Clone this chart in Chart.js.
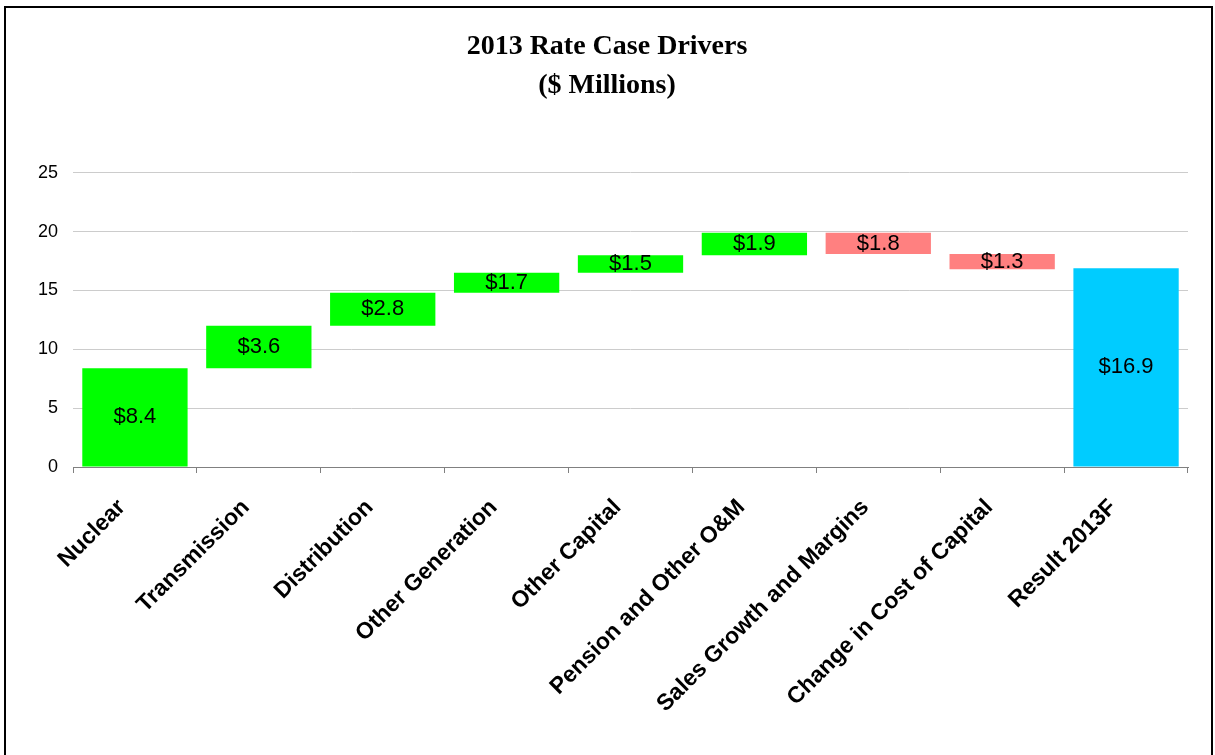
<!DOCTYPE html>
<html>
<head>
<meta charset="utf-8">
<title>2013 Rate Case Drivers</title>
<script src="https://cdn.jsdelivr.net/npm/chart.js@4/dist/chart.umd.min.js"></script>
<style>
    html, body { margin: 0; padding: 0; background: #fff; overflow: hidden; }
    #wrap { position: relative; width: 1215px; height: 755px; }
    /* frame round the chart, bottom edge runs past the window */
    #frame { position: absolute; left: 4px; top: 6px; width: 1205px; height: 800px; border: 2px solid #000; pointer-events: none; }
</style>
</head>
<body>
<div id="wrap">
    <canvas id="rateChart" width="1215" height="755"></canvas>
    <div id="frame"></div>
</div>
<script>
// --- chart data ---
const categories = ['Nuclear', 'Transmission', 'Distribution', 'Other Generation', 'Other Capital',
    'Pension and Other O&M', 'Sales Growth and Margins', 'Change in Cost of Capital', 'Result 2013F'];
const barStart = [0, 8.4, 12.0, 14.8, 16.5, 18.0, 19.9, 18.1, 0];
const barEnd = [8.4, 12.0, 14.8, 16.5, 18.0, 19.9, 18.1, 16.8, 16.9];
const barColors = ['#00ff00', '#00ff00', '#00ff00', '#00ff00', '#00ff00', '#00ff00', '#ff8080', '#ff8080', '#00ccff'];
const yTicks = [0, 5, 10, 15, 20, 25];

// small plugin: "$x.x" written in the middle of each bar
const barValueLabels = {
    id: 'barValueLabels',
    afterDatasetsDraw(chart) {
        const ctx = chart.ctx;
        const meta = chart.getDatasetMeta(0);
        ctx.save();
        ctx.font = '22px "Liberation Sans", Arial, sans-serif';
        ctx.fillStyle = '#000';
        ctx.textAlign = 'center';
        ctx.textBaseline = 'middle';
        meta.data.forEach((bar, i) => {
            const p = bar.getProps(['x', 'y', 'base'], true);
            const amount = Math.abs(barEnd[i] - barStart[i]).toFixed(1);
            ctx.fillText('$' + amount, p.x, (p.y + p.base) / 2);
        });
        ctx.restore();
    }
};

window.onload = () => {
    const ctx = document.getElementById('rateChart').getContext('2d');

    new Chart(ctx, {
        type: 'bar',
        data: {
            labels: categories,
            datasets: [{
                data: categories.map((c, i) => [barStart[i], barEnd[i]]),
                backgroundColor: barColors,
                borderWidth: 0,
                barPercentage: 0.85,
                categoryPercentage: 1
            }]
        },
        options: {
            responsive: false,
            animation: false,
            layout: { padding: { left: 26, right: 27, top: 0, bottom: 0 } },
            plugins: {
                legend: { display: false },
                tooltip: { enabled: false },
                title: {
                    display: true,
                    text: ['2013 Rate Case Drivers', '($ Millions)'],
                    color: '#000',
                    font: { family: '"Liberation Serif", "Times New Roman", serif', size: 28, weight: 'bold', lineHeight: 1.39 },
                    padding: { top: 27, bottom: 68 }
                }
            },
            scales: {
                x: {
                    grid: { offset: true, drawOnChartArea: false, drawTicks: true, tickLength: 6, color: '#808080' },
                    border: { display: true, color: '#808080', width: 1 },
                    ticks: {
                        color: '#000',
                        minRotation: 45,
                        maxRotation: 45,
                        autoSkip: false,
                        padding: 21,
                        labelOffset: -13,
                        font: { family: '"Liberation Sans", Arial, sans-serif', size: 23, weight: 'bold' }
                    },
                    afterFit: (scale) => { scale.height = 288; }
                },
                y: {
                    min: 0,
                    max: 25,
                    afterBuildTicks: (scale) => { scale.ticks = yTicks.map(v => ({ value: v })); },
                    grid: { color: '#cccccc', drawTicks: false },
                    border: { display: false },
                    ticks: {
                        color: '#000',
                        padding: 15,
                        font: { family: '"Liberation Sans", Arial, sans-serif', size: 18 }
                    },
                    afterFit: (scale) => { scale.width = 47; }
                }
            }
        },
        plugins: [barValueLabels]
    });
};
</script>
</body>
</html>
